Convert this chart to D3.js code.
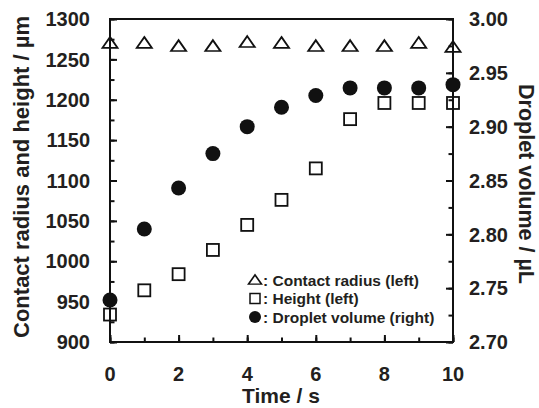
<!DOCTYPE html>
<html>
<head>
<meta charset="utf-8">
<script src="https://cdn.jsdelivr.net/npm/d3@7"></script>
<style>
  body { margin: 0; background: #fff; }
  text { font-family: "Liberation Sans", Arial, sans-serif; font-weight: bold; fill: #231f20; }
</style>
</head>
<body>
<div id="chart"></div>
<script>
// time points (s)
var times = [0, 1, 2, 3, 4, 5, 6, 7, 8, 9, 10]
// contact radius (left axis, µm)
var radius = [1270, 1270, 1266, 1266, 1271, 1270, 1266, 1266, 1266, 1270, 1265]
// height (left axis, µm)
var height = [934, 964, 984, 1014, 1045, 1076, 1115, 1176, 1196, 1196, 1196]
// droplet volume (right axis, µL)
var volume = [2.739, 2.805, 2.843, 2.875, 2.900, 2.918, 2.929, 2.936, 2.936, 2.936, 2.939]

var xTicks = [0, 2, 4, 6, 8, 10]
var leftTicks = [900, 950, 1000, 1050, 1100, 1150, 1200, 1250, 1300]
var rightTicks = [2.70, 2.75, 2.80, 2.85, 2.90, 2.95, 3.00]
var legendLabels = [': Contact radius (left)', ': Height (left)', ': Droplet volume (right)']

var w = 539,
    h = 408,
    m = { left: 110, right: 86, top: 19, bottom: 66 }

var x = d3.scaleLinear().domain([0, 10]).range([m.left, w - m.right]),
    yL = d3.scaleLinear().domain([900, 1300]).range([h - m.bottom, m.top]),
    yR = d3.scaleLinear().domain([2.7, 3.0]).range([h - m.bottom, m.top])

var svg = d3.select('#chart').append('svg')
    .attr('width', w)
    .attr('height', h)

var tri = d3.symbol().type(d3.symbolTriangle)

// точки: высота
svg.append('g').selectAll('rect')
    .data(times)
    .enter()
    .append('rect')
    .attr('x', function (d) { return x(d) - 6 })
    .attr('y', function (d, i) { return yL(height[i]) - 6 })
    .attr('width', 12)
    .attr('height', 12)
    .attr('fill', 'white')
    .attr('stroke', '#111')
    .attr('stroke-width', 1.8)

// точки: радиус
svg.append('g').selectAll('path')
    .data(times)
    .enter()
    .append('path')
    .attr('d', tri.size(75))
    .attr('transform', function (d, i) {
        return 'translate(' + x(d) + ',' + (yL(radius[i]) + 1) + ') scale(1.15,0.95)'
    })
    .attr('fill', 'white')
    .attr('stroke', '#111')
    .attr('stroke-width', 1.7)

// точки: объём
svg.append('g').selectAll('circle')
    .data(times)
    .enter()
    .append('circle')
    .attr('cx', function (d) { return x(d) })
    .attr('cy', function (d, i) { return yR(volume[i]) })
    .attr('r', 7.5)
    .attr('fill', '#111')

// оси
var axisStyle = function (g) {
    g.select('.domain').remove()
    g.selectAll('line').attr('stroke', '#111').attr('stroke-width', 2)
    g.selectAll('text').remove()
}
var minorLeft = d3.range(900, 1301, 25),
    minorRight = d3.range(0, 13).map(function (i) { return 2.7 + i * 0.025 }),
    minorX = d3.range(0, 11)

svg.append('g')
    .attr('transform', 'translate(0,' + (h - m.bottom) + ')')
    .call(d3.axisBottom(x).tickValues(minorX).tickSize(-4.5))
    .call(axisStyle)
svg.append('g')
    .attr('transform', 'translate(0,' + (h - m.bottom) + ')')
    .call(d3.axisBottom(x).tickValues(xTicks).tickSize(-7))
    .call(axisStyle)
svg.append('g')
    .attr('transform', 'translate(' + m.left + ',0)')
    .call(d3.axisLeft(yL).tickValues(minorLeft).tickSize(-4.5))
    .call(axisStyle)
svg.append('g')
    .attr('transform', 'translate(' + m.left + ',0)')
    .call(d3.axisLeft(yL).tickValues(leftTicks).tickSize(-7))
    .call(axisStyle)
svg.append('g')
    .attr('transform', 'translate(' + (w - m.right) + ',0)')
    .call(d3.axisRight(yR).tickValues(minorRight).tickSize(-4.5))
    .call(axisStyle)
svg.append('g')
    .attr('transform', 'translate(' + (w - m.right) + ',0)')
    .call(d3.axisRight(yR).tickValues(rightTicks).tickSize(-7))
    .call(axisStyle)

// рамка
svg.append('rect')
    .attr('x', m.left)
    .attr('y', m.top)
    .attr('width', w - m.left - m.right)
    .attr('height', h - m.top - m.bottom)
    .attr('fill', 'none')
    .attr('stroke', '#111')
    .attr('stroke-width', 2)

// подписи делений
svg.append('g').selectAll('text')
    .data(xTicks)
    .enter()
    .append('text')
    .attr('x', function (d) { return x(d) })
    .attr('y', 381)
    .attr('text-anchor', 'middle')
    .style('font-size', '20px')
    .text(function (d) { return d })
svg.append('g').selectAll('text')
    .data(leftTicks)
    .enter()
    .append('text')
    .attr('x', 90)
    .attr('y', function (d) { return yL(d) })
    .attr('dy', '0.36em')
    .attr('text-anchor', 'end')
    .style('font-size', '20px')
    .text(function (d) { return d })
svg.append('g').selectAll('text')
    .data(rightTicks)
    .enter()
    .append('text')
    .attr('x', 469)
    .attr('y', function (d) { return yR(d) })
    .attr('dy', '0.36em')
    .style('font-size', '20px')
    .text(function (d) { return d.toFixed(2) })

// названия осей
svg.append('text')
    .attr('x', 281)
    .attr('y', 403)
    .attr('text-anchor', 'middle')
    .style('font-size', '21px')
    .text('Time / s')
svg.append('text')
    .attr('transform', 'translate(29,177) rotate(-90)')
    .attr('text-anchor', 'middle')
    .style('font-size', '22px')
    .text('Contact radius and height / µm')
svg.append('text')
    .attr('transform', 'translate(519,184) rotate(90)')
    .attr('text-anchor', 'middle')
    .style('font-size', '21.5px')
    .text('Droplet volume / µL')

// легенда
var legend = svg.append('g').selectAll('g')
    .data(legendLabels)
    .enter()
    .append('g')
    .attr('transform', function (d, i) {
        return 'translate(255,' + (280 + i * 18.5) + ')'
    })
legend.append('text')
    .attr('x', 8)
    .attr('dy', '0.36em')
    .style('font-size', '15.5px')
    .text(function (d) { return d })
legend.filter(function (d, i) { return i === 0 })
    .append('path')
    .attr('d', tri.size(55))
    .attr('transform', 'translate(0,1) scale(1.15,0.95)')
    .attr('fill', 'white')
    .attr('stroke', '#111')
    .attr('stroke-width', 1.5)
legend.filter(function (d, i) { return i === 1 })
    .append('rect')
    .attr('x', -5)
    .attr('y', -5)
    .attr('width', 10)
    .attr('height', 10)
    .attr('fill', 'white')
    .attr('stroke', '#111')
    .attr('stroke-width', 1.5)
legend.filter(function (d, i) { return i === 2 })
    .append('circle')
    .attr('r', 6)
    .attr('fill', '#111')
</script>
</body>
</html>
